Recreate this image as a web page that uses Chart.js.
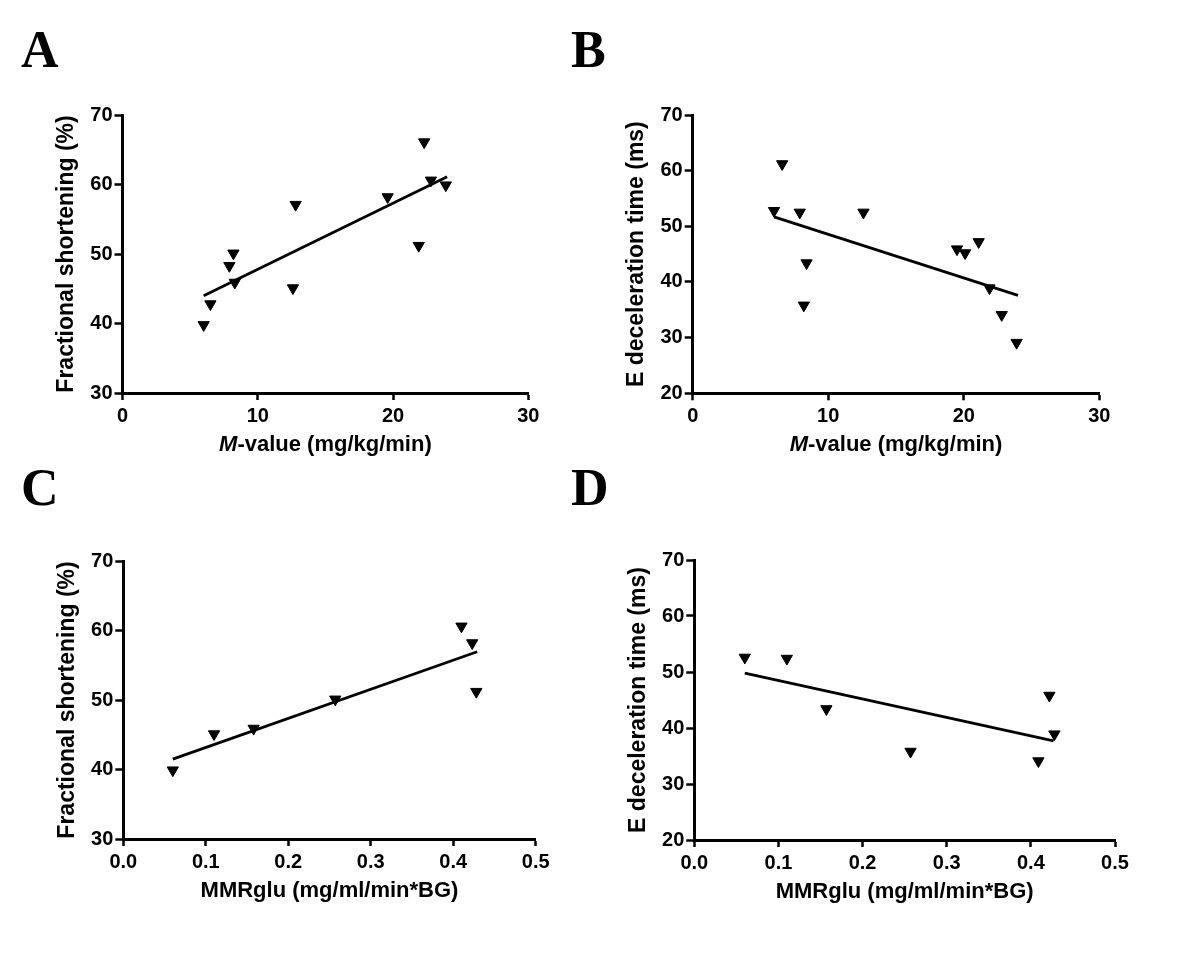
<!DOCTYPE html>
<html>
<head>
<meta charset="utf-8">
<script src="https://cdn.jsdelivr.net/npm/chart.js@4.4.1/dist/chart.umd.min.js"></script>
<style>
body { margin: 0; background: #fff; }
#wrap { position: relative; width: 1200px; height: 980px; background: #fff; }
canvas { position: absolute; }
.letra { position: absolute; font: bold 52px "Liberation Serif", "Times New Roman", serif; line-height: 52px; color: #000; }
</style>
</head>
<body>
<div id="wrap">
    <div class="letra" style="left:21px;top:24px">A</div>
    <div class="letra" style="left:571px;top:24px">B</div>
    <div class="letra" style="left:21px;top:462px">C</div>
    <div class="letra" style="left:571px;top:462px">D</div>
    <canvas id="grafA" width="600" height="490" style="left:0;top:0"></canvas>
    <canvas id="grafB" width="600" height="490" style="left:600px;top:0"></canvas>
    <canvas id="grafC" width="600" height="490" style="left:0;top:490px"></canvas>
    <canvas id="grafD" width="600" height="490" style="left:600px;top:490px"></canvas>
</div>
<script>
// Painel A: M-value x fractional shortening
const mValueA = [6.0, 6.5, 7.9, 8.2, 8.3, 12.8, 12.6, 19.6, 21.9, 22.3, 22.8, 23.9];
const fsA = [39.8, 42.8, 48.3, 50.1, 45.9, 57.1, 45.1, 58.2, 51.2, 66.1, 60.6, 59.9];
const retaAX = [6.0, 24.0];
const retaAY = [44.0, 61.1];

// Painel B: M-value x E deceleration time
const mValueB = [6.0, 6.6, 7.9, 8.4, 8.2, 12.6, 19.5, 20.1, 21.1, 21.9, 22.8, 23.9];
const edtB = [52.8, 61.2, 52.5, 43.4, 35.8, 52.5, 45.9, 45.2, 47.2, 38.9, 34.1, 29.1];
const retaBX = [6.0, 24.0];
const retaBY = [51.7, 37.6];

// Painel C: MMRglu x fractional shortening
const mmrC = [0.060, 0.110, 0.158, 0.257, 0.410, 0.423, 0.428];
const fsC = [39.9, 45.1, 45.9, 50.1, 60.6, 58.2, 51.2];
const retaCX = [0.06, 0.429];
const retaCY = [41.5, 56.95];

// Painel D: MMRglu x E deceleration time
const mmrD = [0.060, 0.110, 0.157, 0.257, 0.409, 0.422, 0.428];
const edtD = [52.6, 52.4, 43.4, 35.8, 34.1, 45.8, 38.9];
const retaDX = [0.06, 0.427];
const retaDY = [49.8, 37.7];

// ticks
const ticksMValue = [0, 10, 20, 30];
const rotulosMValue = ['0', '10', '20', '30'];
const ticksMMR = [0, 0.1, 0.2, 0.3, 0.4, 0.5];
const rotulosMMR = ['0.0', '0.1', '0.2', '0.3', '0.4', '0.5'];
const ticksFS = [30, 40, 50, 60, 70];
const rotulosFS = ['30', '40', '50', '60', '70'];
const ticksEDT = [20, 30, 40, 50, 60, 70];
const rotulosEDT = ['20', '30', '40', '50', '60', '70'];

const FONTE = '"Liberation Sans", Arial, Helvetica, sans-serif';

function pontos(xs, ys) {
    return xs.map((x, i) => ({ x: x, y: ys[i] }));
}

function eixo(ticks, rotulos, pos) {
    return {
        type: 'linear',
        position: pos,
        min: ticks[0],
        max: ticks[ticks.length - 1],
        afterBuildTicks: s => { s.ticks = ticks.map(v => ({ value: v })); },
        afterFit: s => {
            if (pos === 'bottom') s.height = 70;
            else s.width = 60;
        },
        grid: {
            display: true,
            drawOnChartArea: false,
            drawTicks: true,
            tickLength: pos === 'bottom' ? 7 : 8,
            tickWidth: 2.5,
            tickColor: '#000',
            color: '#000'
        },
        border: { display: true, color: '#000', width: 3 },
        ticks: {
            color: '#000',
            font: { family: FONTE, size: 20, weight: 'bold' },
            padding: pos === 'bottom' ? 4 : 2,
            maxRotation: 0,
            autoSkip: false,
            callback: (v, i) => rotulos[i]
        }
    };
}

function pluginTitulos(tituloX, tituloY) {
    return {
        id: 'titulosEixo',
        afterDraw(chart) {
            const ctx = chart.ctx;
            const ca = chart.chartArea;
            ctx.save();
            ctx.fillStyle = '#000';
            ctx.textBaseline = 'middle';
            ctx.textAlign = 'left';
            let total = 0;
            tituloX.forEach(p => {
                ctx.font = (p.italico ? 'italic ' : '') + 'bold 22px ' + FONTE;
                p.w = ctx.measureText(p.texto).width;
                total += p.w;
            });
            let x = (ca.left + ca.right) / 2 - total / 2;
            tituloX.forEach(p => {
                ctx.font = (p.italico ? 'italic ' : '') + 'bold 22px ' + FONTE;
                ctx.fillText(p.texto, x, ca.bottom + 52);
                x += p.w;
            });
            ctx.translate(ca.left - 56, (ca.top + ca.bottom) / 2);
            ctx.rotate(-Math.PI / 2);
            ctx.textAlign = 'center';
            ctx.font = 'bold 23px ' + FONTE;
            ctx.fillText(tituloY, 0, 0);
            ctx.restore();
        }
    };
}

function desenharPainel(id, xs, ys, retaX, retaY, ticksX, rotX, ticksY, rotY, tituloX, tituloY, padding) {
    const ctx = document.getElementById(id).getContext('2d');
    return new Chart(ctx, {
        type: 'scatter',
        data: {
            datasets: [
                {
                    data: pontos(xs, ys),
                    pointStyle: 'triangle',
                    rotation: 180,
                    pointRadius: 6.5,
                    pointHoverRadius: 6.5,
                    backgroundColor: '#000',
                    borderColor: '#000',
                    borderWidth: 1
                },
                {
                    data: pontos(retaX, retaY),
                    showLine: true,
                    borderColor: '#000',
                    borderWidth: 2.8,
                    pointRadius: 0,
                    fill: false
                }
            ]
        },
        options: {
            responsive: false,
            animation: false,
            events: [],
            layout: { padding: padding },
            plugins: {
                legend: { display: false },
                tooltip: { enabled: false }
            },
            scales: {
                x: eixo(ticksX, rotX, 'bottom'),
                y: eixo(ticksY, rotY, 'left')
            }
        },
        plugins: [pluginTitulos(tituloX, tituloY)]
    });
}

const tituloMValue = [{ texto: 'M', italico: true }, { texto: '-value (mg/kg/min)' }];
const tituloMMR = [{ texto: 'MMRglu (mg/ml/min*BG)' }];

desenharPainel('grafA', mValueA, fsA, retaAX, retaAY, ticksMValue, rotulosMValue, ticksFS, rotulosFS,
    tituloMValue, 'Fractional shortening (%)', { left: 62.5, right: 71.7, top: 115, bottom: 27 });
desenharPainel('grafB', mValueB, edtB, retaBX, retaBY, ticksMValue, rotulosMValue, ticksEDT, rotulosEDT,
    tituloMValue, 'E deceleration time (ms)', { left: 32.7, right: 100.7, top: 115, bottom: 26.7 });
desenharPainel('grafC', mmrC, fsC, retaCX, retaCY, ticksMMR, rotulosMMR, ticksFS, rotulosFS,
    tituloMMR, 'Fractional shortening (%)', { left: 63.3, right: 64.3, top: 71, bottom: 71 });
desenharPainel('grafD', mmrD, edtD, retaDX, retaDY, ticksMMR, rotulosMMR, ticksEDT, rotulosEDT,
    tituloMMR, 'E deceleration time (ms)', { left: 34.3, right: 85, top: 70, bottom: 70 });
</script>
</body>
</html>
